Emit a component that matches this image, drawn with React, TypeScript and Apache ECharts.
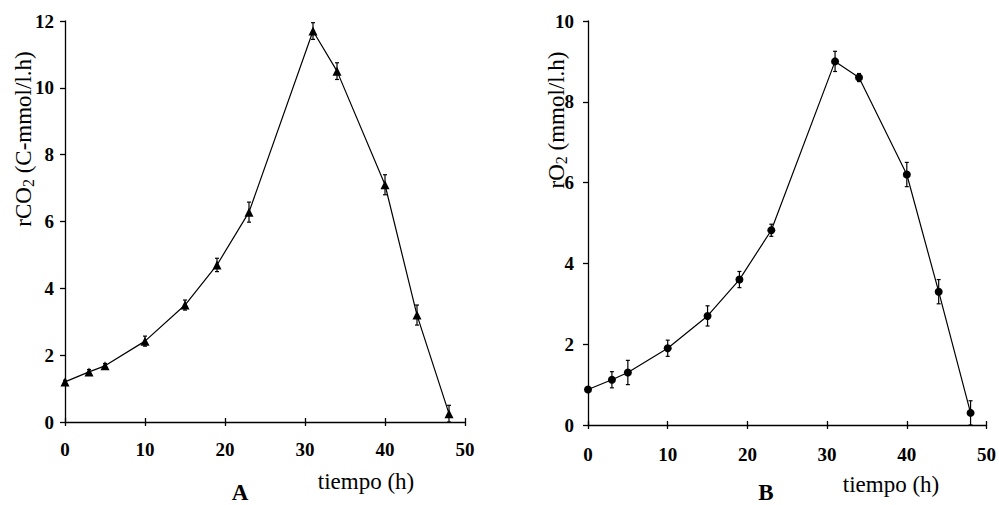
import React, { useEffect, useRef } from "react";
import * as echarts from "echarts";

const hours = [0, 3, 5, 10, 15, 19, 23, 31, 34, 40, 44, 48];
const rCO2 = [1.2, 1.5, 1.68, 2.42, 3.5, 4.7, 6.28, 11.7, 10.5, 7.1, 3.2, 0.25];
const rCO2Err = [0.05, 0.07, 0.07, 0.15, 0.15, 0.2, 0.3, 0.25, 0.25, 0.3, 0.3, 0.25];
const rO2 = [0.88, 1.12, 1.3, 1.9, 2.7, 3.6, 4.82, 9.0, 8.6, 6.2, 3.3, 0.3];
const rO2Err = [0.05, 0.2, 0.3, 0.2, 0.25, 0.2, 0.15, 0.25, 0.1, 0.3, 0.3, 0.3];
const xTickStep = 10;
const xMax = 50;
const yMaxA = 12;
const yMaxB = 10;
const yTickStep = 2;

const FONT = "'Liberation Serif', 'Times New Roman', serif";

function errorRenderer(params: any, api: any) {
  const x = api.value(0);
  const lo = api.value(1);
  const hi = api.value(2);
  const pTop = api.coord([x, hi]);
  const pBot = api.coord([x, lo]);
  const cap = 2;
  const st = { stroke: "#000", lineWidth: 1.2 };
  return {
    type: "group",
    children: [
      { type: "line", shape: { x1: pTop[0], y1: pTop[1], x2: pBot[0], y2: pBot[1] }, style: st },
      { type: "line", shape: { x1: pTop[0] - cap, y1: pTop[1], x2: pTop[0] + cap, y2: pTop[1] }, style: st },
      { type: "line", shape: { x1: pBot[0] - cap, y1: pBot[1], x2: pBot[0] + cap, y2: pBot[1] }, style: st },
    ],
  };
}

function mainX(gridIndex: number, margin: number) {
  return {
    type: "value",
    gridIndex,
    min: 0,
    max: xMax,
    interval: xTickStep,
    axisLine: { show: true, onZero: false, lineStyle: { color: "#000", width: 1.3 } },
    axisTick: { show: true, inside: false, length: 4, lineStyle: { color: "#000", width: 1.3 } },
    axisLabel: { color: "#000", fontFamily: FONT, fontSize: 19, fontWeight: "bold", margin },
    splitLine: { show: false },
  };
}
function innerX(gridIndex: number) {
  return {
    type: "value",
    gridIndex,
    position: "bottom",
    min: 0,
    max: xMax,
    interval: xTickStep,
    axisLine: { show: false, onZero: false },
    axisTick: { show: true, inside: true, length: 4, lineStyle: { color: "#000", width: 1.3 } },
    axisLabel: { show: false },
    splitLine: { show: false },
  };
}
function mainY(gridIndex: number, max: number, margin: number) {
  return {
    type: "value",
    gridIndex,
    min: 0,
    max,
    interval: yTickStep,
    axisLine: { show: true, onZero: false, lineStyle: { color: "#000", width: 1.3 } },
    axisTick: { show: true, inside: false, length: 5, lineStyle: { color: "#000", width: 1.3 } },
    axisLabel: { color: "#000", fontFamily: FONT, fontSize: 19, fontWeight: "bold", margin },
    splitLine: { show: false },
  };
}

export default function App() {
  const ref = useRef<HTMLDivElement>(null);
  useEffect(() => {
    if (!ref.current) return;
    const chart = echarts.init(ref.current, null, { renderer: "svg" });
    const lineA = hours.map((h, i) => [h, rCO2[i]]);
    const lineB = hours.map((h, i) => [h, rO2[i]]);
    const errA = hours.map((h, i) => [h, Math.max(0, rCO2[i] - rCO2Err[i]), rCO2[i] + rCO2Err[i]]);
    const errB = hours.map((h, i) => [h, Math.max(0, rO2[i] - rO2Err[i]), rO2[i] + rO2Err[i]]);
    const titleRich = {
      n: { fontFamily: FONT, fontSize: 23, color: "#000", lineHeight: 26 },
      s: { fontFamily: FONT, fontSize: 16, color: "#000", verticalAlign: "bottom", lineHeight: 16 },
    };
    chart.setOption({
      animation: false,
      backgroundColor: "#fff",
      grid: [
        { left: 65, top: 21, width: 400, height: 401 },
        { left: 588, top: 21, width: 401, height: 404 },
      ],
      xAxis: [mainX(0, 18), innerX(0), mainX(1, 20), innerX(1)],
      yAxis: [mainY(0, yMaxA, 11), mainY(1, yMaxB, 14)],
      series: [
        {
          type: "custom",
          xAxisIndex: 0,
          yAxisIndex: 0,
          renderItem: errorRenderer,
          data: errA,
          encode: { x: 0, y: [1, 2] },
          z: 3,
        },
        {
          type: "line",
          xAxisIndex: 0,
          yAxisIndex: 0,
          data: lineA,
          smooth: false,
          symbol: "triangle",
          symbolSize: 9,
          itemStyle: { color: "#000" },
          lineStyle: { color: "#000", width: 1.2 },
          z: 4,
        },
        {
          type: "custom",
          xAxisIndex: 2,
          yAxisIndex: 1,
          renderItem: errorRenderer,
          data: errB,
          encode: { x: 0, y: [1, 2] },
          z: 3,
        },
        {
          type: "line",
          xAxisIndex: 2,
          yAxisIndex: 1,
          data: lineB,
          smooth: false,
          symbol: "circle",
          symbolSize: 8,
          itemStyle: { color: "#000" },
          lineStyle: { color: "#000", width: 1.2 },
          z: 4,
        },
      ],
      graphic: [
        {
          type: "text",
          x: 23,
          y: 139,
          rotation: Math.PI / 2,
          style: {
            text: "{n|rCO}{s|2}{n| (C-mmol/l.h)}",
            rich: titleRich,
            align: "center",
            verticalAlign: "middle",
          },
        },
        {
          type: "text",
          x: 556,
          y: 120,
          rotation: Math.PI / 2,
          style: {
            text: "{n|rO}{s|2}{n| (mmol/l.h)}",
            rich: titleRich,
            align: "center",
            verticalAlign: "middle",
          },
        },
        {
          type: "text",
          x: 366,
          y: 481,
          style: { text: "tiempo (h)", font: `23px ${FONT}`, fill: "#000", align: "center", verticalAlign: "middle" },
        },
        {
          type: "text",
          x: 891,
          y: 484,
          style: { text: "tiempo (h)", font: `23px ${FONT}`, fill: "#000", align: "center", verticalAlign: "middle" },
        },
        {
          type: "text",
          x: 240,
          y: 492,
          style: { text: "A", font: `bold 23px ${FONT}`, fill: "#000", align: "center", verticalAlign: "middle" },
        },
        {
          type: "text",
          x: 766,
          y: 492,
          style: { text: "B", font: `bold 23px ${FONT}`, fill: "#000", align: "center", verticalAlign: "middle" },
        },
      ],
    });
    return () => chart.dispose();
  }, []);
  return (
    <div
      ref={ref}
      style={{ position: "absolute", left: 0, top: 0, width: 999, height: 505 }}
    />
  );
}
